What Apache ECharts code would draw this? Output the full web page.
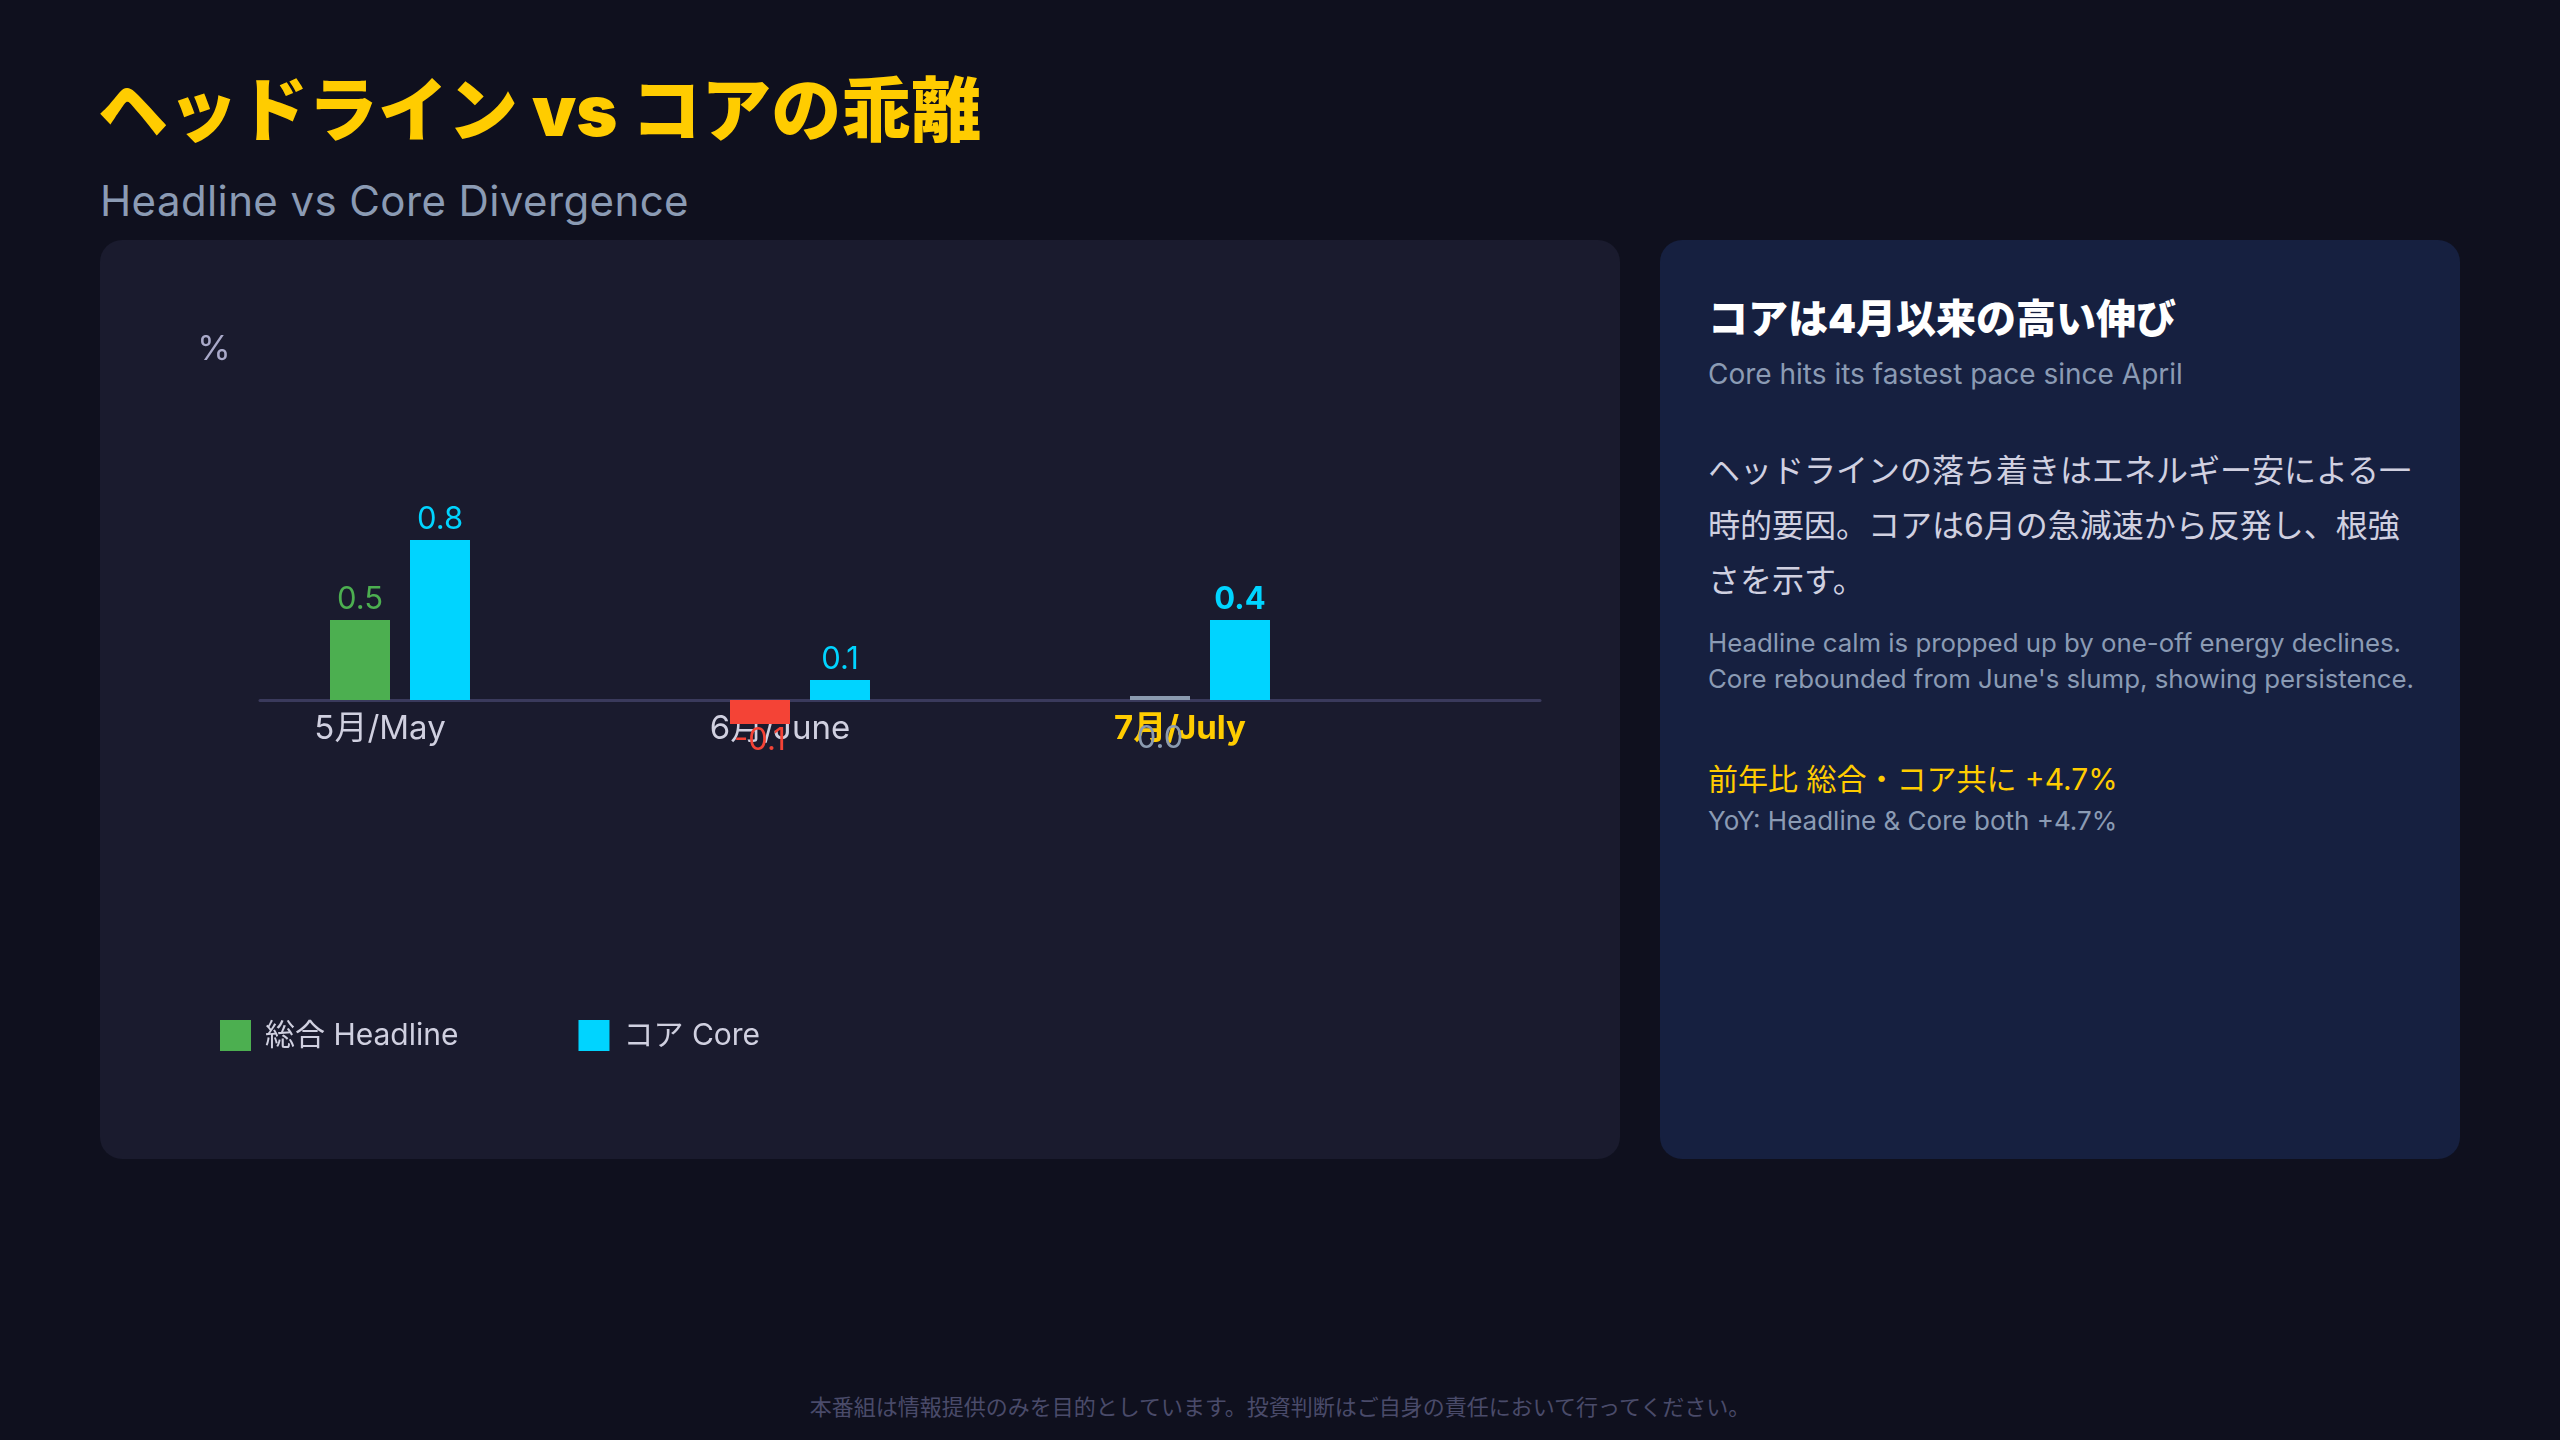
<!DOCTYPE html>
<html>
<head>
<meta charset="utf-8">
<script src="https://cdn.jsdelivr.net/npm/echarts@6/dist/echarts.min.js"></script>
<style>
  html, body { margin:0; padding:0; }
  body { width:2560px; height:1440px; background:#0f101e; position:relative; overflow:hidden;
         font-family: Inter, "Noto Sans CJK JP", sans-serif; }
  .abs { position:absolute; white-space:nowrap; }
  .panel { position:absolute; border-radius:22px; }
</style>
</head>
<body>
<div class="abs" style="left:98px;top:69px;font-size:70px;line-height:84px;font-weight:900;color:#ffcc00;">ヘッドライン vs コアの乖離</div>
<div class="abs" style="left:100px;top:176px;font-size:42px;line-height:49px;letter-spacing:0.4px;color:#8b9bb4;">Headline vs Core Divergence</div>

<div class="panel" style="left:100px;top:240px;width:1520px;height:919px;background:#1a1b2e;"></div>
<div class="panel" style="left:1660px;top:240px;width:800px;height:919px;background:#162040;"></div>

<div class="abs" style="left:1708px;top:295px;font-size:40px;line-height:48px;font-weight:900;color:#ffffff;">コアは4月以来の高い伸び</div>
<div class="abs" style="left:1708px;top:357px;font-size:28px;line-height:34px;color:#8b9bb4;">Core hits its fastest pace since April</div>
<div class="abs" style="left:1708px;top:443px;font-size:32px;line-height:55px;color:#d0d0e0;">ヘッドラインの落ち着きはエネルギー安による一<br>時的要因。コアは6月の急減速から反発し、根強<br>さを示す。</div>
<div class="abs" style="left:1708px;top:625px;font-size:25.8px;line-height:36px;color:#8b9bb4;">Headline calm is propped up by one-off energy declines.<br>Core rebounded from June's slump, showing persistence.</div>
<div class="abs" style="left:1708px;top:761px;font-size:30px;line-height:36px;color:#ffcc00;">前年比 総合・コア共に +4.7%</div>
<div class="abs" style="left:1708px;top:805px;font-size:26px;line-height:32px;color:#8b9bb4;">YoY: Headline &amp; Core both +4.7%</div>

<div class="abs" style="left:0;width:2560px;top:1393px;text-align:center;font-size:22px;line-height:28px;color:#4a4b6a;">本番組は情報提供のみを目的としています。投資判断はご自身の責任において行ってください。</div>

<div id="chart" style="position:absolute;left:0;top:0;width:2560px;height:1440px;"></div>

<script>
// ---- data ----
const months = ['5月/May', '6月/June', '7月/July'];
const headlineValues = [0.4, -0.12, 0];        // bar heights as drawn
const headlineLabels = ['0.5', '-0.1', '0.0']; // printed labels
const coreValues = [0.8, 0.1, 0.4];
const coreLabels = ['0.8', '0.1', '0.4'];
const highlightMonth = 2;

const GREEN = '#4caf50', CYAN = '#00d4ff', RED = '#f44336', GRAY = '#8b9bb0';
const FONT = 'Inter, "Noto Sans CJK JP", sans-serif';

const chart = echarts.init(document.getElementById('chart'), null, { renderer: 'canvas' });

const headlineData = headlineValues.map((v, i) => {
  const c = v > 0 ? GREEN : (v < 0 ? RED : GRAY);
  return {
    value: [i, v],
    itemStyle: { color: c },
    label: {
      color: c,
      position: v > 0 ? 'top' : 'bottom',
      distance: v > 0 ? 5 : (v < 0 ? 1 : 23)
    }
  };
});
const coreData = coreValues.map((v, i) => ({
  value: [i, v],
  label: { fontWeight: i === highlightMonth ? 'bold' : 'normal' }
}));

chart.setOption({
  backgroundColor: 'transparent',
  textStyle: { fontFamily: FONT },
  animation: false,
  grid: { left: 260, right: 1020, top: 380, bottom: 740 },
  legend: {
    data: ['総合 Headline', 'コア Core'],
    left: 220, top: 1020, padding: 0,
    icon: 'rect', itemWidth: 31, itemHeight: 31, itemGap: 120,
    textStyle: { color: '#d0d0e0', fontSize: 30, fontFamily: FONT, padding: [0, 0, 0, 9] }
  },
  xAxis: {
    type: 'value',
    min: -0.35, max: 2.85,
    axisLine: { show: true, onZero: false, lineStyle: { color: '#3a3a5c', width: 3 } },
    axisTick: { show: false },
    splitLine: { show: false },
    axisLabel: {
      customValues: months.map((_, i) => i),
      margin: 13,
      formatter: v => {
        const i = Math.round(v);
        return (i === highlightMonth ? '{h|' : '{n|') + months[i] + '}';
      },
      rich: {
        n: { color: '#d0d0e0', fontSize: 33, fontFamily: FONT, padding: [0, 40, 0, 0] },
        h: { color: '#ffcc00', fontSize: 33, fontWeight: 'bold', fontFamily: FONT, padding: [0, 40, 0, 0] }
      }
    }
  },
  yAxis: {
    type: 'value',
    min: 0, max: 1.6,
    offset: 46,
    name: '%', nameLocation: 'end', nameGap: 13,
    nameTextStyle: { color: '#a9a9c9', fontSize: 34, fontFamily: FONT },
    axisLine: { show: false, onZero: false }, axisTick: { show: false },
    axisLabel: { show: false }, splitLine: { show: false }
  },
  series: [
    {
      name: '総合 Headline', type: 'bar', clip: false,
      barWidth: 60, barGap: '33.33%', barMinHeight: 4,
      itemStyle: { color: GREEN },
      label: {
        show: true, fontSize: 31, fontFamily: FONT,
        formatter: p => headlineLabels[p.dataIndex]
      },
      data: headlineData
    },
    {
      name: 'コア Core', type: 'bar', clip: false,
      barWidth: 60, barGap: '33.33%',
      itemStyle: { color: CYAN },
      label: {
        show: true, position: 'top', distance: 5, fontSize: 31, color: CYAN, fontFamily: FONT,
        formatter: p => coreLabels[p.dataIndex]
      },
      data: coreData
    }
  ]
});
</script>
</body>
</html>
